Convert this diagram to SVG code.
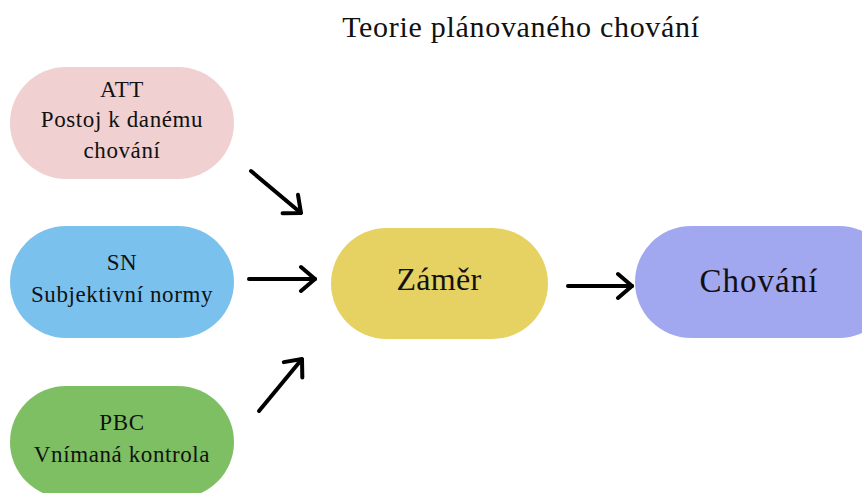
<svg xmlns="http://www.w3.org/2000/svg" width="862" height="493" viewBox="0 0 862 493">
<defs>
<marker id="ah" viewBox="0 0 30 30" refX="28" refY="15" markerWidth="30" markerHeight="30" markerUnits="userSpaceOnUse" orient="auto">
<path d="M14,3 L28,15 L14,27" fill="none" stroke="#000" stroke-width="4" stroke-linecap="round" stroke-linejoin="round"/>
</marker>
<style>
.c{stroke:#000;stroke-width:4;fill:none;stroke-linecap:round;marker-end:url(#ah)}
.s{font-size:23px;letter-spacing:0.6px}
</style>
</defs>
<rect width="862" height="493" fill="#fff"/>
<g font-family="'Liberation Serif', 'Times New Roman', serif" fill="#111" text-anchor="middle">
<text x="521" y="37" font-size="30" letter-spacing="0.7">Teorie plánovaného chování</text>
<g id="att">
<rect x="10" y="67" width="224" height="112" rx="56" fill="#f0d0d0"/>
<text class="s" x="122" y="97">ATT</text>
<text class="s" x="122" y="127">Postoj k danému</text>
<text class="s" x="122" y="158">chování</text>
</g>
<g id="sn">
<rect x="10" y="226" width="224" height="112" rx="56" fill="#7ac1ee"/>
<text class="s" x="122" y="270">SN</text>
<text class="s" x="122" y="302">Subjektivní normy</text>
</g>
<g id="pbc">
<rect x="10" y="386" width="224" height="112" rx="56" fill="#7dbf62"/>
<text class="s" x="122" y="430">PBC</text>
<text class="s" x="122" y="462">Vnímaná kontrola</text>
</g>
<g id="zamer">
<rect x="331" y="228" width="217" height="111" rx="55.5" fill="#e6d262"/>
<text x="439" y="290" font-size="32" letter-spacing="0.3">Záměr</text>
</g>
<g id="chovani">
<rect x="635" y="226" width="260" height="112" rx="56" fill="#a2a8f0"/>
<text x="759" y="292" font-size="33" letter-spacing="1">Chování</text>
</g>
</g>
<g id="connectors">
<line class="c" x1="251" y1="171" x2="301" y2="213"/>
<line class="c" x1="249" y1="279" x2="315" y2="279"/>
<line class="c" x1="259" y1="411" x2="302" y2="359"/>
<line class="c" x1="568" y1="286" x2="632" y2="286"/>
</g>
</svg>
